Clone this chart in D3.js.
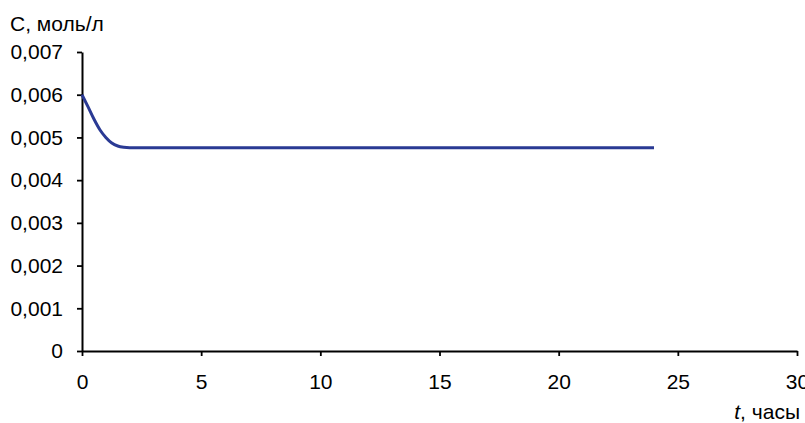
<!DOCTYPE html>
<html>
<head>
<meta charset="utf-8">
<script src="https://cdn.jsdelivr.net/npm/d3@7"></script>
<style>
  body { margin: 0; background: #fff; }
  text { font-family: "Liberation Sans", Arial, sans-serif; fill: #000; }
</style>
</head>
<body>
<svg id="chart" width="805" height="423"></svg>
<script>
// concentration vs time
var hours = [0, 0.25, 0.5, 0.75, 1, 1.25, 1.5, 1.75, 2, 3, 4, 5, 6, 7, 8, 9, 10, 11, 12,
  13, 14, 15, 16, 17, 18, 19, 20, 21, 22, 23, 24];
var conc = [0.006, 0.00572, 0.00543, 0.00518, 0.005, 0.00487, 0.0048, 0.00477, 0.00476,
  0.00476, 0.00476, 0.00476, 0.00476, 0.00476, 0.00476, 0.00476, 0.00476, 0.00476, 0.00476,
  0.00476, 0.00476, 0.00476, 0.00476, 0.00476, 0.00476, 0.00476, 0.00476, 0.00476, 0.00476,
  0.00476, 0.00476];
var xTicks = [0, 5, 10, 15, 20, 25, 30];
var yTicks = [0, 0.001, 0.002, 0.003, 0.004, 0.005, 0.006, 0.007];

var svg = d3.select("#chart");
var mLeft = 82, mRight = 797, mTop = 52, mBottom = 351;

var x = d3.scaleLinear().domain([0, 30]).range([mLeft, mRight]);
var y = d3.scaleLinear().domain([0, 0.007]).range([mBottom, mTop]);

var fmt = function (d) { return d === 0 ? "0" : d3.format(".3f")(d).replace(".", ","); };

//y axis
var gy = svg.append("g")
  .attr("transform", "translate(" + mLeft + ",0)")
  .call(d3.axisLeft(y).tickValues(yTicks).tickSize(5).tickPadding(14).tickFormat(fmt).tickSizeOuter(0));

//x axis
var gx = svg.append("g")
  .attr("transform", "translate(0," + mBottom + ")")
  .call(d3.axisBottom(x).tickValues(xTicks).tickSize(5).tickPadding(18).tickFormat(d3.format("d")).tickSizeOuter(0));

[gx, gy].forEach(function (g) {
  g.select(".domain").attr("stroke", "#000").attr("stroke-width", 2);
  g.selectAll(".tick line").attr("stroke", "#000").attr("stroke-width", 1.8);
  g.selectAll(".tick text").attr("font-size", 21).attr("font-family", "Liberation Sans, Arial, sans-serif");
});

var line = d3.line()
  .x(function (d, i) { return x(hours[i]); })
  .y(function (d) { return y(d); })
  .curve(d3.curveMonotoneX);

svg.append("path")
  .datum(conc)
  .attr("fill", "none")
  .attr("stroke", "#2a3a94")
  .attr("stroke-width", 3)
  .attr("d", line);

svg.append("text")
  .attr("x", 10).attr("y", 31)
  .attr("font-size", 21)
  .text("C, моль/л");

var xl = svg.append("text")
  .attr("x", 800).attr("y", 419)
  .attr("text-anchor", "end")
  .attr("font-size", 21);
xl.append("tspan").attr("font-style", "italic").text("t");
xl.append("tspan").text(", часы");
</script>
</body>
</html>
